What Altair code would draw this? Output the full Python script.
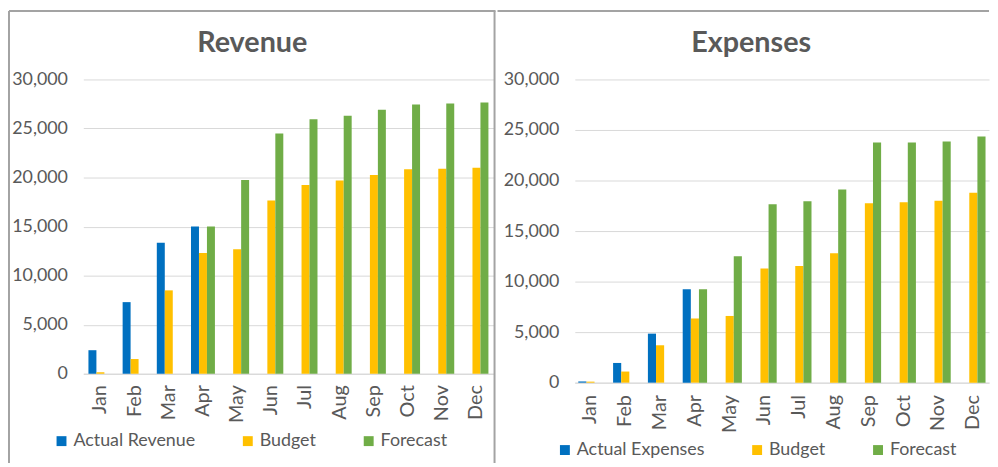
import altair as alt
import pandas as pd

months = ["Jan", "Feb", "Mar", "Apr", "May", "Jun", "Jul", "Aug", "Sep", "Oct", "Nov", "Dec"]

rev_series = ["Actual Revenue", "Budget", "Forecast"]
rev_actual = [2400, 7300, 13350, 15000, None, None, None, None, None, None, None, None]
rev_budget = [150, 1500, 8500, 12300, 12700, 17650, 19250, 19700, 20250, 20850, 20900, 21000]
rev_forecast = [None, None, None, 15000, 19750, 24500, 25950, 26300, 26900, 27450, 27550, 27650]

exp_series = ["Actual Expenses", "Budget", "Forecast"]
exp_actual = [120, 1950, 4850, 9250, None, None, None, None, None, None, None, None]
exp_budget = [100, 1100, 3700, 6350, 6600, 11300, 11550, 12800, 17750, 17850, 18000, 18800]
exp_forecast = [None, None, None, 9250, 12500, 17650, 17950, 19100, 23750, 23750, 23850, 24350]

y_ticks = [0, 5000, 10000, 15000, 20000, 25000, 30000]
colors = ["#0070C0", "#FFC000", "#70AD47"]

TEXT = "#595959"
GRID = "#D9D9D9"
BORDER = "#A3A3A3"
FONT = "Lato"


def table(series, values):
    rows = []
    for name, vals in zip(series, values):
        for m, v in zip(months, vals):
            if v is not None:
                rows.append({"month": m, "series": name, "value": v})
    return pd.DataFrame(rows)


def rule(x, y, x2=None, y2=None, w=2):
    enc = dict(x=alt.value(x), y=alt.value(y))
    if x2 is not None:
        enc["x2"] = alt.value(x2)
    if y2 is not None:
        enc["y2"] = alt.value(y2)
    return alt.Chart(pd.DataFrame({"k": [0]})).mark_rule(color=BORDER, strokeWidth=w).encode(**enc)


def panel(df, series, title, title_dx, width, height, pad_outer, leg_x, leg_y, xlab_pad, rules):
    bars = alt.Chart(df).mark_bar().encode(
        x=alt.X(
            "month:N",
            sort=months,
            scale=alt.Scale(paddingInner=0.3, paddingOuter=pad_outer),
            axis=alt.Axis(
                title=None, labelAngle=270, labelAlign="right", labelBaseline="middle",
                labelPadding=xlab_pad, ticks=False, domainColor=GRID, domainWidth=1,
                labelFontSize=20, labelColor=TEXT, labelFont=FONT, grid=False,
            ),
        ),
        xOffset=alt.XOffset("series:N", sort=series,
                            scale=alt.Scale(domain=series, paddingInner=0, paddingOuter=0)),
        y=alt.Y(
            "value:Q",
            scale=alt.Scale(domain=[0, 30000], nice=False),
            axis=alt.Axis(
                title=None, values=y_ticks, format=",.0f", ticks=False, domain=False,
                labelPadding=16, labelFontSize=18, labelColor=TEXT, labelFont=FONT,
                gridColor=GRID, gridWidth=1,
            ),
        ),
        color=alt.Color(
            "series:N",
            sort=series,
            scale=alt.Scale(domain=series, range=colors),
            legend=alt.Legend(
                title=None, orient="none", legendX=leg_x, legendY=leg_y,
                direction="horizontal", symbolType="square", symbolSize=100,
                symbolStrokeWidth=0, labelFontSize=18, labelColor=TEXT, labelFont=FONT,
                labelOffset=3, columnPadding=44, padding=0,
            ),
        ),
    )
    return alt.layer(bars, *rules).properties(
        width=width,
        height=height,
        title=alt.TitleParams(
            text=title, fontSize=29, font=FONT, fontWeight="bold", color=TEXT,
            anchor="middle", frame="bounds", offset=-48, dx=title_dx,
        ),
    )


left = panel(
    table(rev_series, [rev_actual, rev_budget, rev_forecast]),
    rev_series, "Revenue", 0, 414, 297, 0.15, -31, 356, 11,
    [rule(-75, -69, x2=416), rule(-75, -69, y2=387), rule(415, -69, y2=387)],
)

right = panel(
    table(exp_series, [exp_actual, exp_budget, exp_forecast]),
    exp_series, "Expenses", 8, 418, 306, 0.1, -19, 365, 12,
    [rule(-78, -69, x2=418)],
)

chart = alt.hconcat(left, right, spacing=0).resolve_scale(
    color="independent", x="independent", y="independent", xOffset="independent"
).properties(padding=0).configure_view(stroke=None)

chart.save("out.html", embed_options={"renderer": "svg", "actions": False})
